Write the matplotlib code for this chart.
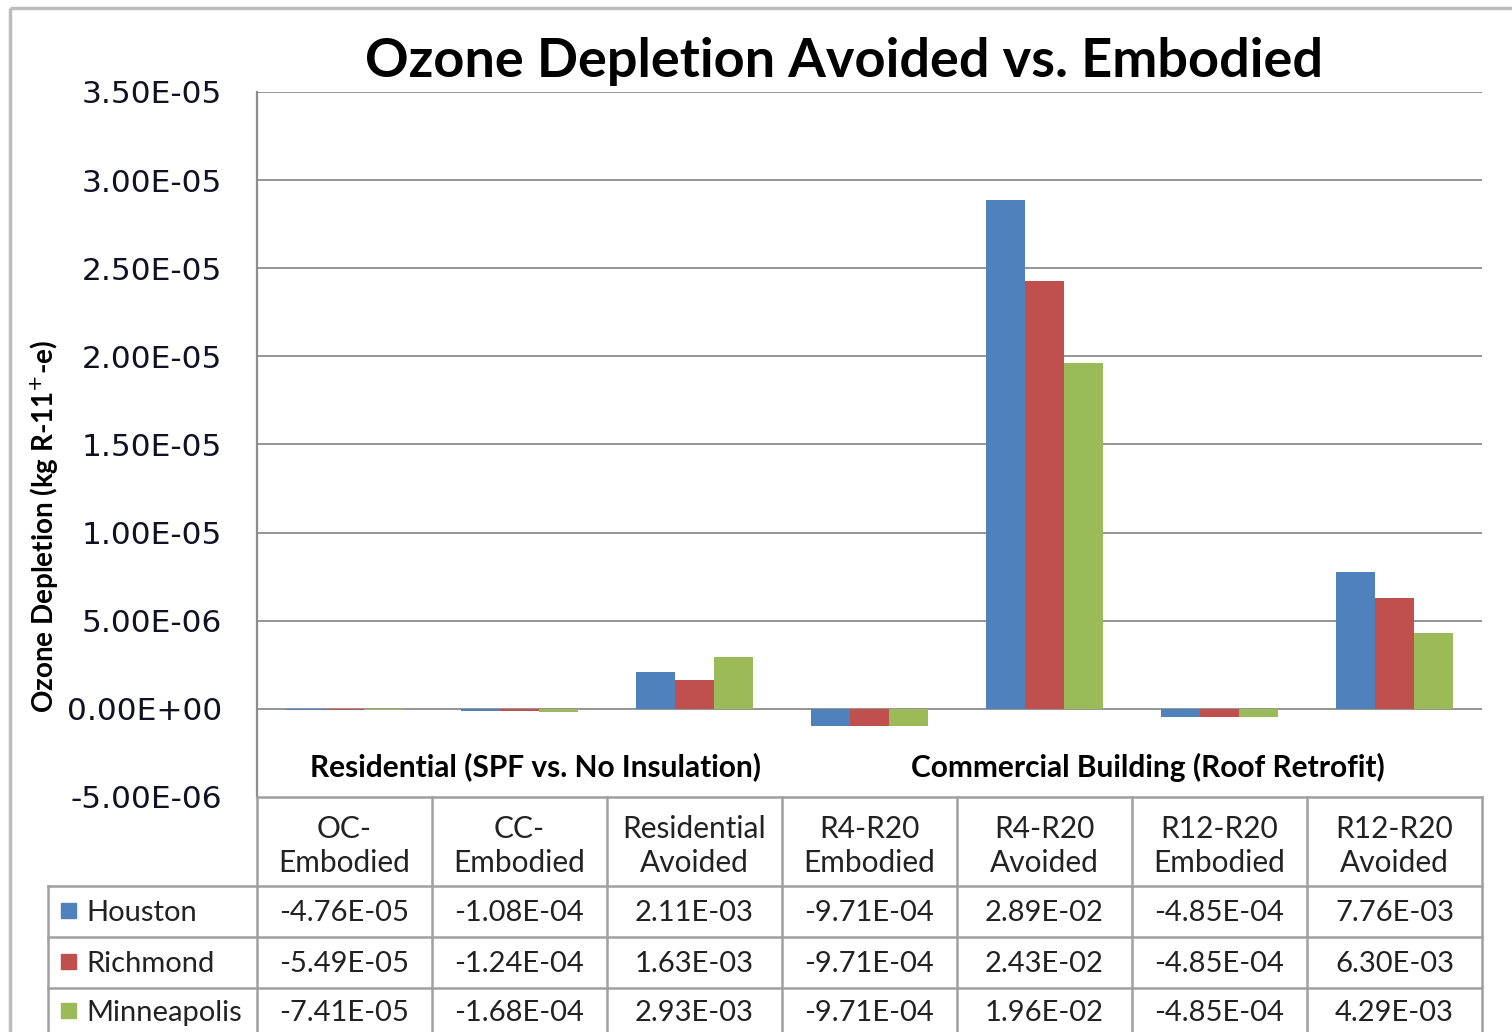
import matplotlib
matplotlib.use("Agg")
import matplotlib.pyplot as plt
import matplotlib.transforms as mtransforms
from matplotlib.patches import Rectangle
import numpy as np

# ---- data ----
categories = ["OC-\nEmbodied", "CC-\nEmbodied", "Residential\nAvoided",
              "R4-R20\nEmbodied", "R4-R20\nAvoided", "R12-R20\nEmbodied", "R12-R20\nAvoided"]
series_names = ["Houston", "Richmond", "Minneapolis"]
houston_tbl = ["-4.76E-05", "-1.08E-04", "2.11E-03", "-9.71E-04", "2.89E-02", "-4.85E-04", "7.76E-03"]
richmond_tbl = ["-5.49E-05", "-1.24E-04", "1.63E-03", "-9.71E-04", "2.43E-02", "-4.85E-04", "6.30E-03"]
minneapolis_tbl = ["-7.41E-05", "-1.68E-04", "2.93E-03", "-9.71E-04", "1.96E-02", "-4.85E-04", "4.29E-03"]
# plotted values (chart axis units)
houston = [-4.76e-08, -1.08e-07, 2.11e-06, -9.71e-07, 2.89e-05, -4.85e-07, 7.76e-06]
richmond = [-5.49e-08, -1.24e-07, 1.63e-06, -9.71e-07, 2.43e-05, -4.85e-07, 6.30e-06]
minneapolis = [-7.41e-08, -1.68e-07, 2.93e-06, -9.71e-07, 1.96e-05, -4.85e-07, 4.29e-06]
group_labels = ["Residential (SPF vs. No Insulation)", "Commercial Building (Roof Retrofit)"]
group_spans = [(0, 2), (3, 6)]
yticks = [-5e-6, 0, 5e-6, 1e-5, 1.5e-5, 2e-5, 2.5e-5, 3e-5, 3.5e-5]
ytick_labels = ["-5.00E-06", "0.00E+00", "5.00E-06", "1.00E-05", "1.50E-05",
                "2.00E-05", "2.50E-05", "3.00E-05", "3.50E-05"]
title = "Ozone Depletion Avoided vs. Embodied"
ylabel = "Ozone Depletion (kg R-11$^{+}$-e)"

colors = ["#4F81BD", "#C0504D", "#9BBB59"]
grid_c = "#8C8C8C"
text_font = ["Lato", "DejaVu Sans"]

W, H = 1512, 1032
fig = plt.figure(figsize=(W / 100, H / 100), dpi=100)
fig.patch.set_facecolor("white")

L, R, T, B = 257, 1482, 92, 797
ax = fig.add_axes([L / W, 1 - B / H, (R - L) / W, (B - T) / H])
ax.set_xlim(-0.5, len(categories) - 0.5)
ax.set_ylim(-5e-6, 3.5e-5)

x = np.arange(len(categories))
bw = 0.224
for i, vals in enumerate([houston, richmond, minneapolis]):
    ax.bar(x + (i - 1) * bw, vals, width=bw, color=colors[i], zorder=3, linewidth=0)

for yv in yticks[1:]:
    ax.axhline(yv, color=grid_c, lw=1.3, zorder=1)
for s in ["top", "right", "bottom"]:
    ax.spines[s].set_visible(False)
ax.spines["left"].set_color(grid_c)
ax.spines["left"].set_linewidth(1.6)
ax.set_xticks([])
ax.set_yticks(yticks)
ax.set_yticklabels(ytick_labels, fontsize=22.5, color="#111122", family="DejaVu Sans")
ax.tick_params(axis="y", length=0, pad=25)

# overlay in pixel coordinates
ov = fig.add_axes([0, 0, 1, 1], zorder=5)
ov.set_xlim(0, W)
ov.set_ylim(H, 0)
ov.axis("off")
bt = mtransforms.blended_transform_factory(ax.transData, ov.transData)

# outer border
ov.plot([10, W], [8, 8], color="#BDBDBD", lw=2.5, solid_capstyle="butt")
ov.plot([10, 10], [8, H], color="#BDBDBD", lw=2.5, solid_capstyle="butt")

# title
ov.text(844, 61, title, ha="center", va="center", fontsize=39, fontweight="bold",
        family=text_font, color="black")
# y label
ov.text(45, 527, ylabel, ha="center", va="center", rotation=90, fontsize=20,
        fontweight="bold", family=text_font, color="black")

# group labels
bt_shift = mtransforms.offset_copy(bt, fig=fig, x=16, y=0, units="dots")
for lab, (a, b) in zip(group_labels, group_spans):
    ov.text((a + b) / 2, 767, lab, transform=bt_shift, ha="center", va="center",
            fontsize=21.5, fontweight="bold", family=text_font, color="black")

# table lines
tc = "#A0A0A0"
lw = 1.8
row_y = [797, 886, 937, 988]
ov.plot([L, R], [797, 797], color=tc, lw=lw)
for yy in row_y[1:]:
    ov.plot([48, R], [yy, yy], color=tc, lw=lw)
ov.plot([48, 48], [886, H], color=tc, lw=lw)
for k in range(len(categories) + 1):
    ov.plot([k - 0.5, k - 0.5], [797, H], color=tc, lw=lw, transform=bt)

# header cells
for k, c in enumerate(categories):
    ov.text(k, 846, c, transform=bt, ha="center", va="center", fontsize=21.5,
            family=text_font, color="#222222", linespacing=1.27)

# rows
row_centers = [913, 964, 1013]
for r, (name, tbl) in enumerate(zip(series_names, [houston_tbl, richmond_tbl, minneapolis_tbl])):
    yc = row_centers[r]
    ov.add_patch(Rectangle((61, yc - 10), 15, 15, color=colors[r]))
    ov.text(86, yc, name, ha="left", va="center", fontsize=21, family=text_font,
            color="#222222")
    for k, v in enumerate(tbl):
        ov.text(k, yc, v, transform=bt, ha="center", va="center", fontsize=21,
                family=text_font, color="#222222")

fig.savefig("out.png", dpi=100)
